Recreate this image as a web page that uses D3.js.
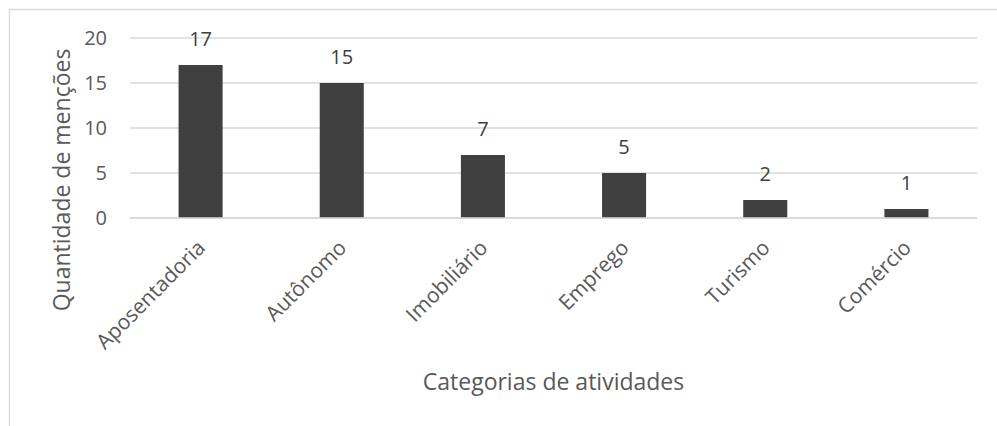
<!DOCTYPE html>
<html>
<head>
<meta charset="utf-8">
<script src="https://cdn.jsdelivr.net/npm/d3@7"></script>
<style>
  html, body { margin: 0; padding: 0; background: #ffffff; }
  svg { display: block; }
  text { font-family: "Open Sans", sans-serif; }
</style>
</head>
<body>
<svg id="chart" width="997" height="426"></svg>
<script>
// Mentions per activity category
const categories = ["Aposentadoria", "Autônomo", "Imobiliário", "Emprego", "Turismo", "Comércio"];
const mentions = [17, 15, 7, 5, 2, 1];
const yTicks = [0, 5, 10, 15, 20];
const xTitle = "Categorias de atividades";
const yTitle = "Quantidade de menções";

const svg = d3.select("#chart");
const W = 997, H = 426;

// Outer chart frame (left and top edges visible)
svg.append("path")
  .attr("d", `M9.5,${H} L9.5,9.5 L${W},9.5`)
  .attr("fill", "none")
  .attr("stroke", "#d9d9d9")
  .attr("stroke-width", 1.3);

const plot = { left: 130, right: 977, top: 38, bottom: 218 };

const x = d3.scaleBand()
  .domain(categories)
  .range([plot.left, plot.right])
  .paddingInner(0.688)
  .paddingOuter(0.344);

const y = d3.scaleLinear()
  .domain([0, 20])
  .range([plot.bottom, plot.top]);

// Horizontal gridlines
svg.append("g")
  .selectAll("line")
  .data(yTicks)
  .join("line")
  .attr("x1", plot.left)
  .attr("x2", plot.right)
  .attr("y1", d => y(d))
  .attr("y2", d => y(d))
  .attr("stroke", "#d9d9d9")
  .attr("stroke-width", 1.3);

// Y axis labels
const yAxis = d3.axisLeft(y).tickValues(yTicks).tickSize(0).tickPadding(0);
const gy = svg.append("g")
  .attr("transform", `translate(${plot.left - 23},0)`)
  .call(yAxis);
gy.select(".domain").remove();
gy.selectAll("text")
  .attr("fill", "#595959")
  .style("font-size", "20px")
  .style("font-family", "'Open Sans', sans-serif");

// Bars
svg.append("g")
  .selectAll("rect")
  .data(categories)
  .join("rect")
  .attr("x", d => x(d))
  .attr("width", x.bandwidth())
  .attr("y", (d, i) => y(mentions[i]))
  .attr("height", (d, i) => y(0) - y(mentions[i]))
  .attr("fill", "#404040");

// Value labels above the bars
svg.append("g")
  .selectAll("text")
  .data(categories)
  .join("text")
  .attr("x", d => x(d) + x.bandwidth() / 2)
  .attr("y", (d, i) => y(mentions[i]) - 19)
  .attr("text-anchor", "middle")
  .attr("fill", "#404040")
  .style("font-size", "20px")
  .text((d, i) => mentions[i]);

// Baseline redrawn over the bars
svg.append("line")
  .attr("x1", plot.left)
  .attr("x2", plot.right)
  .attr("y1", y(0))
  .attr("y2", y(0))
  .attr("stroke", "#d9d9d9")
  .attr("stroke-width", 1.3);

// Rotated category labels
const xAxis = d3.axisBottom(x).tickSize(0).tickPadding(0);
const gx = svg.append("g")
  .attr("transform", `translate(0,${plot.bottom})`)
  .call(xAxis);
gx.select(".domain").remove();
gx.selectAll(".tick text")
  .attr("fill", "#595959")
  .style("font-size", "21px")
  .style("font-family", "'Open Sans', sans-serif")
  .attr("text-anchor", "end")
  .attr("dy", null)
  .attr("y", null)
  .attr("transform", "translate(6,31) rotate(-45)");

// Axis titles
svg.append("text")
  .attr("x", (plot.left + plot.right) / 2 + 0)
  .attr("y", 390)
  .attr("text-anchor", "middle")
  .attr("fill", "#595959")
  .style("font-size", "23px")
  .text(xTitle);

svg.append("text")
  .attr("transform", "translate(70,180) rotate(-90)")
  .attr("text-anchor", "middle")
  .attr("fill", "#595959")
  .style("font-size", "23px")
  .text(yTitle);
</script>
</body>
</html>
